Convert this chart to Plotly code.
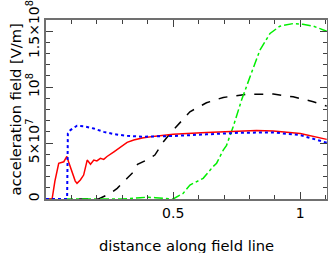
import plotly.graph_objects as go

# red solid
red_x = [0.0, 0.024, 0.035, 0.05, 0.07, 0.082, 0.089, 0.102, 0.115, 0.122, 0.135, 0.148, 0.162, 0.175, 0.188,
         0.2, 0.214, 0.227, 0.24, 0.267, 0.293, 0.319, 0.345, 0.378, 0.43, 0.5, 0.631, 0.763, 0.828, 0.894, 1.0, 1.104]
red_y = [0, 0, 1.6e7, 3.19e7, 3.33e7, 3.8e7, 3.3e7, 2.44e7, 1.6e7, 1.4e7, 1.7e7, 2.14e7, 3.48e7, 3.1e7, 3.48e7,
         3.4e7, 3.63e7, 3.54e7, 3.8e7, 4.22e7, 4.67e7, 5.06e7, 5.27e7, 5.45e7, 5.62e7, 5.78e7, 5.95e7, 6.1e7, 6.12e7, 6.07e7, 5.86e7, 5.33e7]

# blue dotted
blue_x = [0.0, 0.083, 0.086, 0.09, 0.096, 0.122, 0.148, 0.188, 0.227, 0.267, 0.319, 0.378, 0.5, 0.631, 0.763, 0.894, 1.0, 1.104]
blue_y = [0, 0, 5.86e7, 6.0e7, 6.16e7, 6.55e7, 6.5e7, 6.3e7, 6.0e7, 5.8e7, 5.65e7, 5.57e7, 5.63e7, 5.78e7, 5.92e7, 5.95e7, 5.71e7, 5.03e7]

# black dashed
black_x = [0.13, 0.207, 0.253, 0.28, 0.319, 0.345, 0.36, 0.395, 0.428, 0.461, 0.49, 0.513, 0.566, 0.631, 0.697, 0.789, 0.894, 0.972, 1.051, 1.104]
black_y = [0, 0, 5e6, 9.5e6, 1.85e7, 2.44e7, 3.1e7, 3.48e7, 3.93e7, 5.1e7, 5.9e7, 6.45e7, 7.8e7, 8.6e7, 9.08e7, 9.35e7, 9.38e7, 9.13e7, 8.7e7, 8.3e7]

# green dash-dot
green_x = [0.0, 0.3, 0.37, 0.4, 0.43, 0.47, 0.5, 0.539, 0.566, 0.605, 0.618, 0.657, 0.671, 0.697, 0.71, 0.736,
           0.769, 0.802, 0.841, 0.881, 0.92, 0.972, 1.01, 1.051, 1.104]
green_y = [0, 0, 1.2e6, 1.6e6, 1.2e6, 3e5, 0, 5e6, 1.25e7, 1.7e7, 1.85e7, 2.9e7, 3.2e7, 4.37e7, 4.8e7, 6.45e7,
           8.84e7, 1.09e8, 1.33e8, 1.48e8, 1.545e8, 1.568e8, 1.562e8, 1.545e8, 1.50e8]

x_tickvals = [0.5, 1]
x_ticktext = ["0.5", "1"]
y_tickvals = [0, 5e7, 1e8, 1.5e8]
y_ticktext = ["0", "5×10<sup>7</sup>", "10<sup>8</sup>", "1.5×10<sup>8</sup>"]
x_title = "distance along field line"
y_title = "acceleration field [V/m]"

FONT = "DejaVu Sans, Verdana, sans-serif"

fig = go.Figure()
fig.add_trace(go.Scatter(x=black_x, y=black_y, mode="lines", line=dict(color="black", width=1.5, dash="dash")))
fig.add_trace(go.Scatter(x=green_x, y=green_y, mode="lines", line=dict(color="#00ee00", width=1.5, dash="dashdot")))
fig.add_trace(go.Scatter(x=red_x, y=red_y, mode="lines", line=dict(color="red", width=1.5)))
fig.add_trace(go.Scatter(x=blue_x, y=blue_y, mode="lines", line=dict(color="blue", width=2, dash="dot")))

axis_common = dict(showgrid=False, zeroline=False, showline=True, linecolor="#707070", linewidth=1.5,
                   mirror="allticks", ticks="inside", tickcolor="#404040", tickwidth=1, automargin=False,
                   tickfont=dict(family=FONT, size=14, color="black"))

fig.update_xaxes(range=[0, 1.105], tickvals=x_tickvals, ticktext=x_ticktext, ticklen=7,
                 minor=dict(dtick=0.1, tick0=0, ticklen=4, ticks="inside", tickcolor="#404040"),
                 **axis_common)
fig.update_yaxes(range=[0, 1.6e8], tickvals=y_tickvals, ticktext=y_ticktext, ticklen=7, tickangle=-90,
                 minor=dict(dtick=1e7, tick0=0, ticklen=4, ticks="inside", tickcolor="#404040"),
                 **axis_common)

fig.add_annotation(text=x_title, xref="paper", yref="paper", x=0.5, y=0, yshift=-46,
                   xanchor="center", yanchor="middle", showarrow=False,
                   font=dict(family=FONT, size=14.7, color="black"))
fig.add_annotation(text=y_title, xref="paper", yref="paper", x=0, y=0.5, xshift=-31, textangle=-90,
                   xanchor="center", yanchor="middle", showarrow=False,
                   font=dict(family=FONT, size=14.7, color="black"))

fig.update_layout(width=328, height=253, margin=dict(l=46, r=1, t=20, b=54), showlegend=False,
                  plot_bgcolor="white", paper_bgcolor="white", template="none")
fig.write_html("out.html", config={"displayModeBar": False},
               post_script="document.body.style.margin='0';document.body.style.overflow='hidden';")
